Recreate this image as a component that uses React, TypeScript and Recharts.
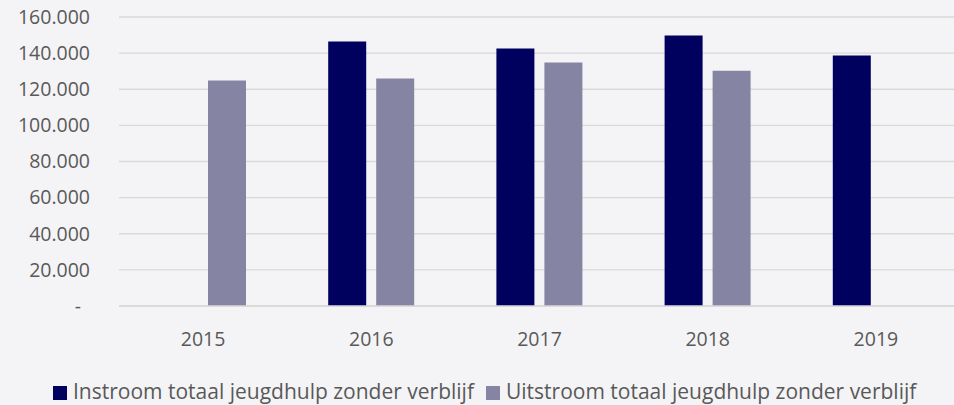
import React from 'react'
import { BarChart, Bar, XAxis, YAxis, CartesianGrid, Legend } from 'recharts'

const years = ['2015', '2016', '2017', '2018', '2019']
const instroom = [null, 146500, 142500, 149800, 138700]
const uitstroom = [124800, 125900, 134800, 130200, null]
const yTicks = [0, 20000, 40000, 60000, 80000, 100000, 120000, 140000, 160000]

const data = years.map((year, i) => ({ year, instroom: instroom[i], uitstroom: uitstroom[i] }))

const FONT = '"Open Sans", "Noto Sans", sans-serif'
const TEXT = '#595959'

function formatDutch(v: number): string {
  if (v === 0) return '-'
  return v.toLocaleString('de-DE')
}

function YTick(props: any) {
  const { x, y, payload } = props
  const isZero = payload.value === 0
  return (
    <text x={isZero ? x - 9 : x} y={y} dy="0.35em" textAnchor="end" fill={TEXT} fontSize={19.5} fontFamily={FONT}>
      {formatDutch(payload.value)}
    </text>
  )
}

export default function App() {
  return (
    <div style={{ position: 'absolute', left: 0, top: 0, width: 954, height: 405, overflow: 'hidden', background: '#f4f4f6' }}>
      <BarChart
        width={960}
        height={405}
        data={data}
        margin={{ top: 17, right: 0, left: 0, bottom: 0 }}
        barGap={10}
        barSize={38}
      >
        <CartesianGrid vertical={false} stroke="#d9d9d9" strokeWidth={1.3} />
        <XAxis
          dataKey="year"
          axisLine={{ stroke: '#d9d9d9', strokeWidth: 1.3 }}
          tickLine={false}
          tickSize={0}
          tickMargin={26}
          height={72}
          tick={{ fill: TEXT, fontSize: 19.5, fontFamily: FONT }}
        />
        <YAxis
          width={119}
          domain={[0, 160000]}
          ticks={yTicks}
          axisLine={false}
          tickLine={false}
          tickSize={0}
          tickMargin={29}
          tick={<YTick />}
        />
        <Legend
          iconType="square"
          iconSize={14}
          align="left"
          verticalAlign="bottom"
          wrapperStyle={{ left: 53, bottom: 0, width: 'auto', fontFamily: FONT, fontSize: 21, lineHeight: '27px', whiteSpace: 'nowrap' }}
          formatter={(value: string) => <span style={{ color: TEXT, paddingLeft: 2, paddingRight: 2 }}>{value}</span>}
        />
        <Bar dataKey="instroom" name="Instroom totaal jeugdhulp zonder verblijf" fill="#00005f" isAnimationActive={false} />
        <Bar dataKey="uitstroom" name="Uitstroom totaal jeugdhulp zonder verblijf" fill="#8585a3" isAnimationActive={false} />
      </BarChart>
    </div>
  )
}
